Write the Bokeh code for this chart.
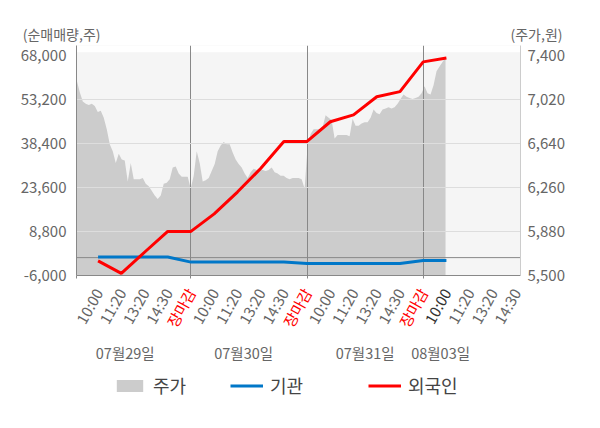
import numpy as np
from bokeh.plotting import figure
from bokeh.layouts import column
from bokeh.models import (Range1d, LinearAxis, FixedTicker, NumeralTickFormatter, Span,
                          Legend, LegendItem, BoxAnnotation, Label)
from bokeh.core.properties import value
from bokeh.embed import file_html
from bokeh.resources import INLINE

FONT = "Noto Sans CJK KR"

# ---------------- data ----------------
time_labels = ["10:00", "11:20", "13:20", "14:30", "장마감",
               "10:00", "11:20", "13:20", "14:30", "장마감",
               "10:00", "11:20", "13:20", "14:30", "장마감",
               "10:00", "11:20", "13:20", "14:30"]
day_labels = ["07월29일", "07월30일", "07월31일", "08월03일"]

institution = [200, 200, 200, 200, -1500, -1500, -1500, -1500, -1500,
               -2000, -2000, -2000, -2000, -2000, -1000, -1000]
foreign = [-1100, -5300, 1800, 8800, 8800, 14700, 22000, 29900, 39000,
           39000, 45600, 47900, 54000, 55700, 65700, 67000]

price_0729 = [7180, 7080, 7000, 6980, 6970, 6980, 6960, 6910, 6920, 6860,
              6760, 6630, 6570, 6470, 6550, 6500, 6490, 6310, 6470, 6330,
              6330, 6330, 6340, 6290, 6270, 6230, 6190, 6160, 6190, 6290,
              6300, 6330, 6430, 6440, 6380, 6350, 6350, 6350, 6250]
price_0730 = [6360, 6570, 6470, 6310, 6320, 6340, 6400, 6460, 6570, 6620,
              6650, 6630, 6630, 6560, 6500, 6460, 6430, 6380, 6340, 6390,
              6420, 6410, 6420, 6410, 6400, 6410, 6430, 6390, 6380, 6360,
              6360, 6340, 6330, 6340, 6340, 6340, 6330, 6250]
price_0731 = [6620, 6720, 6760, 6760, 6760, 6780, 6880, 6860, 6840, 6680,
              6710, 6710, 6710, 6710, 6700, 6850, 6790, 6790, 6810, 6820,
              6820, 6860, 6930, 6900, 6890, 6930, 6940, 6950, 6940, 6950,
              6980, 7020, 7060, 7040, 7030, 7020, 7030, 7040, 7070]
price_0803 = [7130, 7070, 7060, 7140, 7260, 7300, 7340, 7380]

left_ticks = [-6000, 8800, 23600, 38400, 53200, 68000]
right_ticks = [5500, 5880, 6260, 6640, 7020, 7400]
left_title = "(순매매량,주)"
right_title = "(주가,원)"
series_names = ["주가", "기관", "외국인"]

# ---------------- layout constants ----------------
W = 600
TOP_H, MAIN_H, AX_H, LEG_H = 45, 239, 81, 63
BORDER_L, BORDER_R, BORDER_B = 76, 80, 9
X_START, X_END = -0.929, 18.19
LEFT_END = 71190
RIGHT_END = 7482
BAND_TOP = 68940
PRICE_X0, PRICE_STEP = -0.9165, 0.12909
DAY_POS = [1.17, 6.27, 11.5, 14.75]
ANG = np.deg2rad(61)
TICK_Y, DAY_Y = 76, 13
GREY, AREA, BLUE, RED, DARK = "#666666", "#cccccc", "#0077c8", "#ff0000", "#333333"

price = price_0729 + price_0730 + price_0731 + price_0803
px = PRICE_X0 + np.arange(len(price)) * PRICE_STEP
lx = np.arange(len(foreign))

close_idx = [i for i, t in enumerate(time_labels) if t == "장마감"]
now_idx = len(foreign) - 1
tick_colors = [RED if i in close_idx else (DARK if i == now_idx else GREY)
               for i in range(len(time_labels))]


def blank_fig(h, x_range=None):
    f = figure(width=W, height=h, output_backend="svg", toolbar_location=None,
               x_range=x_range if x_range is not None else Range1d(0, W), y_range=Range1d(0, h),
               x_axis_location=None, y_axis_location=None, min_border=0, frame_align=False,
               background_fill_color="white", border_fill_color="white", outline_line_color=None)
    f.xgrid.visible = False
    f.ygrid.visible = False
    return f


# ---------------- titles ----------------
top = blank_fig(TOP_H)
top.add_layout(Label(x=100, y=12, text=left_title, text_align="right", text_baseline="middle",
                     text_font=FONT, text_font_size="14px", text_color=GREY))
top.add_layout(Label(x=562, y=12, text=right_title, text_align="right", text_baseline="middle",
                     text_font=FONT, text_font_size="14px", text_color=GREY))

# ---------------- main chart ----------------
p = figure(width=W, height=MAIN_H, output_backend="svg", toolbar_location=None,
           x_range=Range1d(X_START, X_END), y_range=Range1d(left_ticks[0], LEFT_END),
           min_border_left=BORDER_L, min_border_right=BORDER_R, min_border_top=0,
           min_border_bottom=BORDER_B, frame_align=False,
           background_fill_color="#f5f5f5", border_fill_color="white", outline_line_color=None)
p.extra_y_ranges = {"price": Range1d(right_ticks[0], RIGHT_END)}

p.add_layout(BoxAnnotation(bottom=BAND_TOP, fill_color="white", fill_alpha=1,
                           line_color=None, level="image"))

area = p.varea(x=px, y1=right_ticks[0], y2=price, y_range_name="price",
               fill_color=AREA, level="image")

p.ygrid.ticker = FixedTicker(ticks=left_ticks[1:-1])
p.ygrid.grid_line_color = "#dddddd"
p.xgrid.ticker = FixedTicker(ticks=close_idx)
p.xgrid.grid_line_color = "#888888"

p.add_layout(Span(location=0, dimension="width", line_color="#888888", line_width=1, level="underlay"))

p.line(lx, institution, line_color=BLUE, line_width=3)
p.line(lx, foreign, line_color=RED, line_width=3)


def style_axis(ax, size="15px", color=GREY, standoff=7):
    ax.major_tick_line_color = None
    ax.minor_tick_line_color = None
    ax.major_tick_out = 0
    ax.major_tick_in = 0
    ax.major_label_standoff = standoff
    ax.major_label_text_font = FONT
    ax.major_label_text_font_size = size
    ax.major_label_text_color = color


ya = p.yaxis[0]
ya.ticker = FixedTicker(ticks=left_ticks)
ya.formatter = NumeralTickFormatter(format="0,0")
style_axis(ya, "15px", standoff=10)
ya.axis_line_color = "#888888"

ra = LinearAxis(y_range_name="price", ticker=FixedTicker(ticks=right_ticks),
                formatter=NumeralTickFormatter(format="0,0"))
style_axis(ra, "15px", standoff=7)
ra.axis_line_color = "#cccccc"
p.add_layout(ra, "right")

xa = p.xaxis[0]
xa.ticker = FixedTicker(ticks=[], minor_ticks=[X_START] + close_idx)
style_axis(xa, "15px", standoff=0)
xa.axis_line_color = "#888888"
xa.minor_tick_line_color = "#888888"
xa.minor_tick_out = 3
xa.minor_tick_in = 0

# ---------------- time / day labels (strip under the chart, same x scale) ----------------
pxu = (W - BORDER_L - BORDER_R) / (X_END - X_START)
axf = blank_fig(AX_H, Range1d(X_START - BORDER_L / pxu, X_END + BORDER_R / pxu))
axf.text(x=list(range(len(time_labels))), y=TICK_Y, text=time_labels, text_color=tick_colors,
         angle=ANG, text_align="right", text_baseline="middle",
         text_font=value(FONT), text_font_size=value("15px"))
axf.text(x=DAY_POS, y=DAY_Y, text=day_labels, text_color=GREY, text_align="center",
         text_baseline="middle", text_font=value(FONT), text_font_size=value("14.5px"))

# ---------------- legend ----------------
leg = blank_fig(LEG_H)
r_area = leg.varea(x=[0], y1=[0], y2=[0], fill_color=AREA)
r_inst = leg.line(x=[0], y=[0], line_color=BLUE, line_width=3)
r_for = leg.line(x=[0], y=[0], line_color=RED, line_width=3)
for name, rend, vx in zip(series_names, [r_area, r_inst, r_for], [113, 230, 368]):
    lg = Legend(items=[LegendItem(label=name, renderers=[rend])], location=(vx, 30),
                orientation="horizontal", glyph_width=33, glyph_height=15,
                label_text_font=FONT, label_text_font_size="18px", label_text_color="#444444",
                border_line_color=None, background_fill_alpha=0, padding=0, margin=0,
                label_standoff=7, spacing=0)
    leg.add_layout(lg, "center")

layout = column(top, p, axf, leg, spacing=0)
open("out.html", "w").write(file_html(layout, INLINE))
